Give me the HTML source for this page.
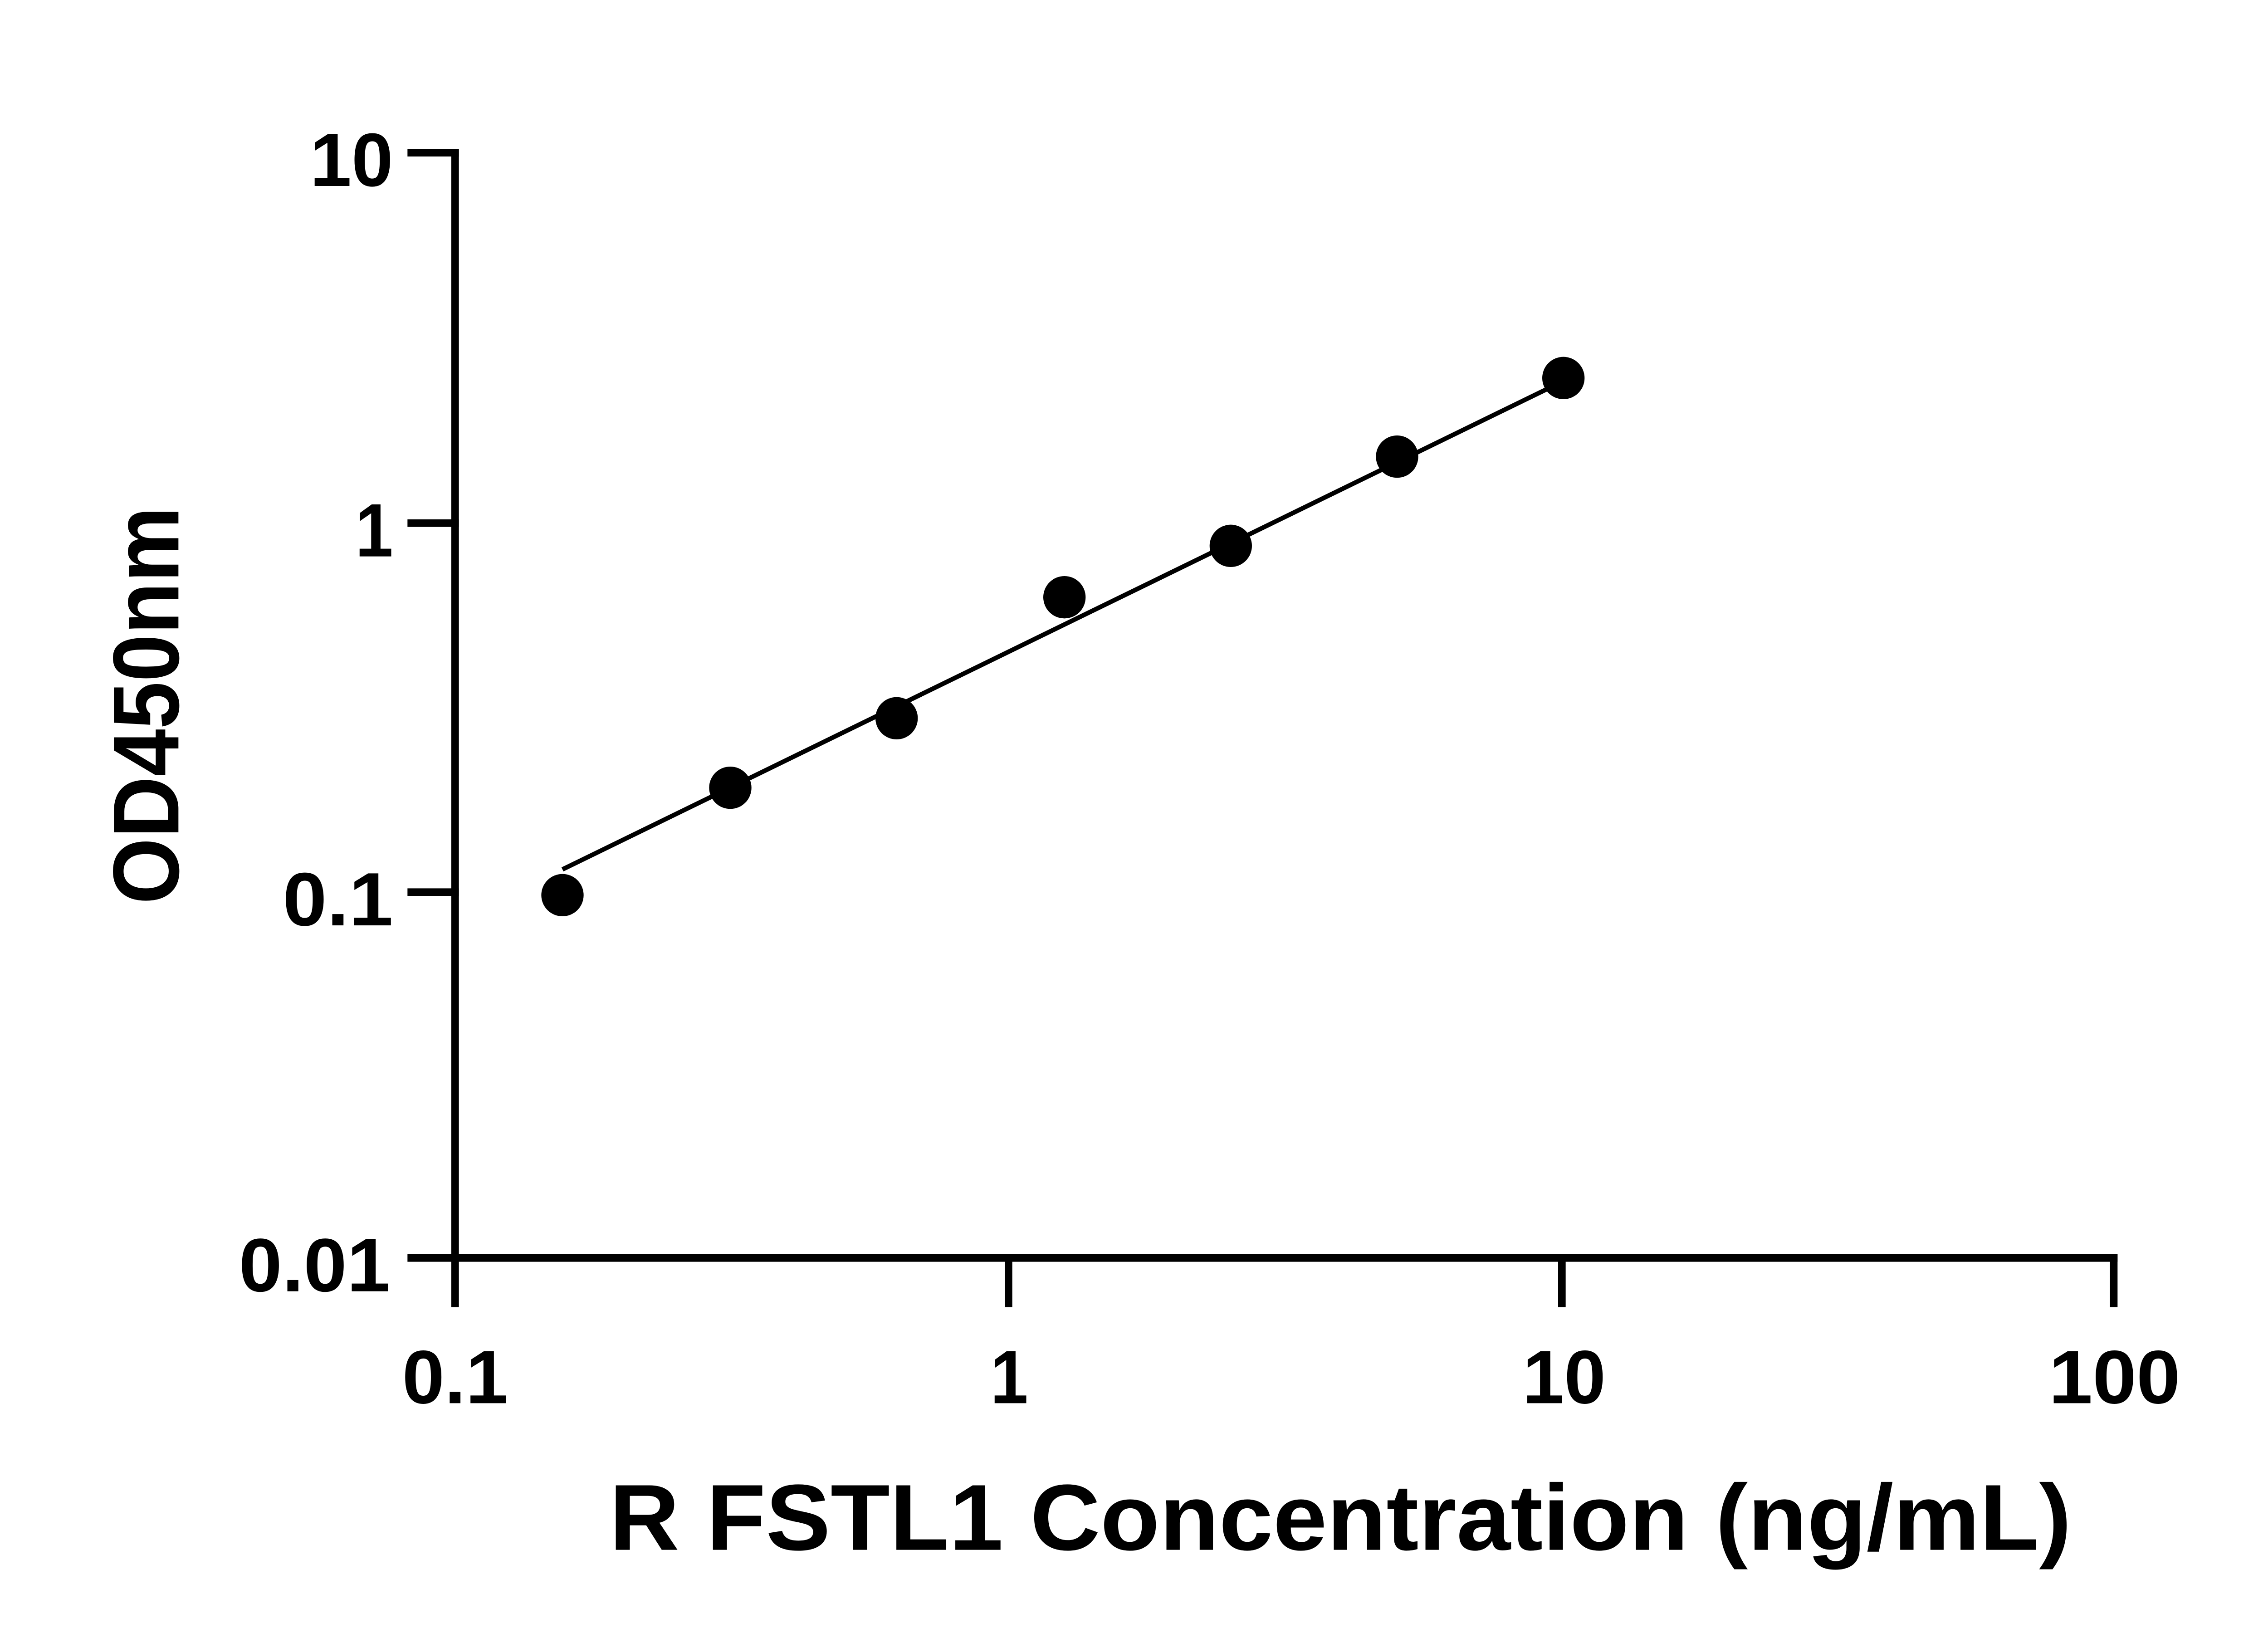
<!DOCTYPE html>
<html><head><style>html,body{margin:0;padding:0;background:#fff}svg{display:block}</style></head>
<body>
<svg width="5142" height="3600" viewBox="0 0 1542.6 1080" xmlns="http://www.w3.org/2000/svg" font-family="Liberation Sans, sans-serif" font-weight="bold">
<g stroke="#000" stroke-width="5" fill="none" stroke-linecap="square">
<line x1="301" y1="101" x2="301" y2="862"/>
<line x1="301" y1="832" x2="1398" y2="832"/>
<line x1="272" y1="101" x2="301" y2="101"/>
<line x1="272" y1="346" x2="301" y2="346"/>
<line x1="272" y1="590" x2="301" y2="590"/>
<line x1="272" y1="832" x2="301" y2="832"/>
<line x1="667" y1="832" x2="667" y2="862"/>
<line x1="1033" y1="832" x2="1033" y2="862"/>
<line x1="1398" y1="832" x2="1398" y2="862"/>
</g>
<line x1="372" y1="575" x2="1034" y2="252" stroke="#000" stroke-width="3"/>
<g fill="#000">
<circle cx="372" cy="592" r="14"/>
<circle cx="483" cy="521" r="14"/>
<circle cx="593" cy="475" r="14"/>
<circle cx="704" cy="395" r="14"/>
<circle cx="814" cy="361" r="14"/>
<circle cx="924" cy="302" r="14"/>
<circle cx="1034" cy="250" r="14"/>
</g>
<g font-size="50">
<text x="205" y="123" textLength="55" lengthAdjust="spacingAndGlyphs">10</text>
<text x="235" y="368" textLength="25" lengthAdjust="spacingAndGlyphs">1</text>
<text x="187" y="612" textLength="73" lengthAdjust="spacingAndGlyphs">0.1</text>
<text x="158" y="854" textLength="100" lengthAdjust="spacingAndGlyphs">0.01</text>
<text x="266" y="928" textLength="70" lengthAdjust="spacingAndGlyphs">0.1</text>
<text x="655" y="928" textLength="25" lengthAdjust="spacingAndGlyphs">1</text>
<text x="1007" y="928" textLength="55" lengthAdjust="spacingAndGlyphs">10</text>
<text x="1355" y="928" textLength="87" lengthAdjust="spacingAndGlyphs">100</text>
</g>
<text x="403" y="1025" font-size="62" textLength="967" lengthAdjust="spacingAndGlyphs">R FSTL1 Concentration (ng/mL)</text>
<text transform="translate(118,598) rotate(-90)" font-size="62" textLength="263" lengthAdjust="spacingAndGlyphs">OD450nm</text>
</svg>
</body></html>
